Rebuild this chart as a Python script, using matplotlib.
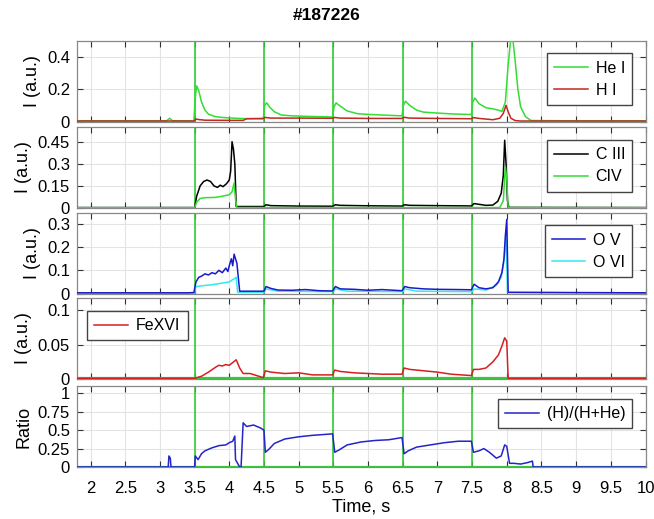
import matplotlib
matplotlib.use("Agg")
import matplotlib.pyplot as plt

plt.rcParams['font.family'] = ['Liberation Sans', 'DejaVu Sans']

# ---------------- data ----------------
puff_times = [3.5, 4.5, 5.5, 6.5, 7.5]

t_he = [1.8, 2.5, 3.0, 3.1, 3.14, 3.18, 3.3, 3.49, 3.51, 3.53, 3.56, 3.6, 3.65, 3.7, 3.8, 3.9, 4.0, 4.2, 4.4,
        4.49, 4.51, 4.54, 4.58, 4.65, 4.75, 4.9, 5.1, 5.3, 5.49, 5.51, 5.54, 5.6, 5.7, 5.85, 6.0, 6.2, 6.49,
        6.51, 6.54, 6.6, 6.7, 6.8, 7.0, 7.2, 7.49, 7.51, 7.54, 7.6, 7.7, 7.8, 7.88, 7.93, 7.98, 8.02, 8.06,
        8.09, 8.12, 8.16, 8.2, 8.27, 8.35, 9.0, 10.0]
v_he = [0.004, 0.004, 0.004, 0.005, 0.02, 0.005, 0.004, 0.004, 0.15, 0.22, 0.19, 0.12, 0.07, 0.045, 0.03,
        0.025, 0.022, 0.018, 0.017, 0.016, 0.1, 0.115, 0.09, 0.06, 0.04, 0.035, 0.032, 0.03, 0.028, 0.09,
        0.115, 0.095, 0.065, 0.048, 0.044, 0.04, 0.035, 0.1, 0.125, 0.1, 0.07, 0.058, 0.052, 0.047, 0.043,
        0.12, 0.145, 0.11, 0.085, 0.078, 0.07, 0.062, 0.12, 0.35, 0.52, 0.5, 0.38, 0.2, 0.09, 0.03, 0.006,
        0.004, 0.004]

t_h = [1.8, 3.49, 3.52, 3.56, 3.65, 4.0, 4.2, 4.25, 4.49, 4.52, 4.6, 5.0, 5.49, 5.52, 5.6, 6.0, 6.49, 6.52,
       6.6, 7.0, 7.49, 7.52, 7.6, 7.8, 7.9, 7.95, 7.99, 8.02, 8.06, 8.12, 8.2, 10.0]
v_h = [0.003, 0.003, 0.015, 0.012, 0.008, 0.007, 0.007, 0.017, 0.019, 0.025, 0.021, 0.021, 0.02, 0.025,
       0.021, 0.019, 0.019, 0.026, 0.021, 0.019, 0.017, 0.024, 0.019, 0.011, 0.02, 0.05, 0.1, 0.06, 0.02,
       0.006, 0.003, 0.003]

t_c3 = [1.8, 3.5, 3.53, 3.58, 3.63, 3.68, 3.73, 3.78, 3.83, 3.87, 3.91, 3.96, 4.0, 4.02, 4.04, 4.06, 4.08,
        4.1, 4.5, 4.53, 4.6, 5.0, 5.49, 5.53, 5.6, 6.0, 6.49, 6.53, 6.6, 7.0, 7.49, 7.53, 7.6, 7.7, 7.8,
        7.87, 7.92, 7.95, 7.97, 7.99, 8.01, 8.03, 10.0]
v_c3 = [0.003, 0.003, 0.08, 0.15, 0.18, 0.19, 0.18, 0.15, 0.14, 0.155, 0.145, 0.165, 0.19, 0.25, 0.45,
        0.4, 0.3, 0.01, 0.01, 0.022, 0.016, 0.013, 0.012, 0.022, 0.018, 0.015, 0.013, 0.022, 0.018, 0.016,
        0.014, 0.03, 0.025, 0.018, 0.02, 0.045, 0.1, 0.22, 0.46, 0.3, 0.05, 0.004, 0.003]

t_c4 = [1.8, 3.5, 3.53, 3.58, 3.65, 3.8, 3.9, 4.0, 4.04, 4.07, 4.09, 4.11, 7.9, 7.95, 7.98, 8.0, 8.02, 10.0]
v_c4 = [0.002, 0.002, 0.04, 0.065, 0.07, 0.072, 0.08, 0.09, 0.11, 0.17, 0.06, 0.003, 0.003, 0.05, 0.28,
        0.2, 0.003, 0.002]

t_o5 = [1.8, 3.4, 3.49, 3.52, 3.56, 3.6, 3.65, 3.7, 3.75, 3.8, 3.85, 3.9, 3.95, 3.98, 4.0, 4.03, 4.05, 4.07,
        4.09, 4.11, 4.15, 4.5, 4.53, 4.6, 4.7, 4.9, 5.1, 5.3, 5.49, 5.53, 5.6, 5.8, 6.0, 6.2, 6.49, 6.53,
        6.6, 6.8, 7.0, 7.3, 7.49, 7.53, 7.6, 7.7, 7.8, 7.88, 7.93, 7.96, 7.98, 8.0, 8.02, 10.0]
v_o5 = [0.003, 0.003, 0.004, 0.05, 0.07, 0.075, 0.085, 0.08, 0.09, 0.085, 0.1, 0.09, 0.11, 0.095, 0.12,
        0.15, 0.12, 0.17, 0.15, 0.13, 0.01, 0.01, 0.03, 0.022, 0.015, 0.014, 0.017, 0.012, 0.011, 0.03,
        0.02, 0.018, 0.014, 0.017, 0.012, 0.03, 0.025, 0.02, 0.018, 0.017, 0.016, 0.04, 0.025, 0.02, 0.025,
        0.05, 0.09, 0.15, 0.25, 0.32, 0.005, 0.003]

t_o6 = [1.8, 3.49, 3.52, 3.6, 3.75, 3.9, 4.0, 4.05, 4.08, 4.1, 4.12, 4.5, 4.53, 4.7, 5.5, 5.53, 5.7, 6.5,
        6.53, 6.7, 7.5, 7.53, 7.7, 7.85, 7.92, 7.96, 7.99, 8.01, 10.0]
v_o6 = [0.001, 0.001, 0.03, 0.033, 0.038, 0.045, 0.05, 0.06, 0.065, 0.07, 0.005, 0.005, 0.02, 0.01,
        0.008, 0.02, 0.01, 0.008, 0.02, 0.01, 0.008, 0.02, 0.015, 0.035, 0.07, 0.14, 0.26, 0.005, 0.001]

t_fe = [1.8, 3.5, 3.6, 3.7, 3.8, 3.85, 3.9, 3.95, 4.0, 4.05, 4.1, 4.15, 4.2, 4.3, 4.49, 4.52, 4.6, 4.8,
        5.0, 5.2, 5.49, 5.52, 5.6, 5.8, 6.0, 6.2, 6.49, 6.52, 6.6, 6.8, 7.0, 7.2, 7.49, 7.52, 7.6, 7.7,
        7.8, 7.88, 7.93, 7.97, 8.0, 8.02, 10.0]
v_fe = [0.001, 0.001, 0.004, 0.01, 0.017, 0.02, 0.019, 0.021, 0.02, 0.024, 0.028, 0.016, 0.008, 0.008,
        0.002, 0.012, 0.01, 0.008, 0.009, 0.006, 0.006, 0.013, 0.011, 0.009, 0.008, 0.007, 0.007, 0.016,
        0.014, 0.012, 0.01, 0.007, 0.005, 0.014, 0.014, 0.016, 0.025, 0.035, 0.048, 0.06, 0.055, 0.001,
        0.001]

t_ratio = [1.8, 3.12, 3.13, 3.15, 3.16, 3.5, 3.51, 3.55, 3.6, 3.65, 3.75, 3.85, 3.95, 4.0, 4.05, 4.08, 4.09,
           4.15, 4.17, 4.2, 4.25, 4.35, 4.45, 4.5, 4.52, 4.57, 4.65, 4.8, 5.0, 5.2, 5.49, 5.52, 5.58, 5.7,
           5.9, 6.1, 6.3, 6.49, 6.52, 6.58, 6.7, 6.9, 7.1, 7.3, 7.49, 7.52, 7.6, 7.67, 7.75, 7.85, 7.92,
           7.97, 8.0, 8.04, 8.1, 8.2, 8.3, 8.37, 8.38, 10.0]
v_ratio = [0.0, 0.0, 0.15, 0.12, 0.0, 0.0, 0.15, 0.1, 0.18, 0.22, 0.26, 0.29, 0.3, 0.33, 0.35, 0.42, 0.1,
           0.0, 0.0, 0.6, 0.55, 0.57, 0.53, 0.5, 0.2, 0.24, 0.32, 0.38, 0.41, 0.43, 0.45, 0.2, 0.23, 0.3,
           0.34, 0.36, 0.37, 0.4, 0.18, 0.22, 0.27, 0.3, 0.33, 0.35, 0.35, 0.2, 0.22, 0.25, 0.2, 0.12,
           0.15, 0.3, 0.28, 0.05, 0.05, 0.04, 0.06, 0.08, 0.0, 0.0]

# ---------------- styling ----------------
c_he = '#33dd33'
c_h = '#c02820'
c_c3 = '#000000'
c_c4 = '#33dd33'
c_o5 = '#1a1acc'
c_o6 = '#33e8f0'
c_fe = '#d42020'
c_ratio = '#2424c8'
c_puff = '#33cc33'

W, H = 654, 519
fig = plt.figure(figsize=(W / 100, H / 100), dpi=100)

left, right = 77, 645.5
panels_px = [(40.5, 121.5), (127, 208), (212.5, 293.5), (298, 379), (386, 467)]
axes = []
for top, bot in panels_px:
    ax = fig.add_axes([left / W, 1 - bot / H, (right - left) / W, (bot - top) / H])
    axes.append(ax)

xticks = [2 + 0.5 * i for i in range(17)]
xticklabels = ['2', '2.5', '3', '3.5', '4', '4.5', '5', '5.5', '6', '6.5', '7', '7.5', '8', '8.5', '9',
               '9.5', '10']

ylims = [(0, 0.5), (0, 0.55), (0, 0.35), (0, 0.118), (0, 1.1)]
yticks = [[0, 0.2, 0.4], [0, 0.15, 0.3, 0.45], [0, 0.1, 0.2, 0.3], [0, 0.05, 0.1], [0, 0.25, 0.5, 0.75, 1]]
yticklabels = [['0', '0.2', '0.4'], ['0', '0.15', '0.3', '0.45'], ['0', '0.1', '0.2', '0.3'],
               ['0', '0.05', '0.1'], ['0', '0.25', '0.5', '0.75', '1']]

for i, ax in enumerate(axes):
    ax.set_xlim(1.805, 10.0)
    ax.set_ylim(*ylims[i])
    ax.set_xticks(xticks)
    ax.set_yticks(yticks[i])
    ax.set_yticklabels(yticklabels[i])
    if i == 4:
        ax.set_xticklabels(xticklabels)
    else:
        ax.set_xticklabels([])
    ax.grid(True, color='#e3e3e3', linewidth=0.8)
    ax.set_axisbelow(True)
    ax.tick_params(direction='in', top=True, right=True, length=4, width=0.8, color='#333333',
                   labelsize=12, pad=5)
    ax.tick_params(axis='x', pad=10)
    for s in ax.spines.values():
        s.set_color('#888888')
        s.set_linewidth(0.9)
    for tp in puff_times:
        ax.axvline(tp, color=c_puff, lw=1.2, zorder=1.5)
    if i >= 3:
        ax.axhline(0.0008 if i == 3 else 0.004, color=c_puff, lw=1.6, zorder=1.4)

lw = 1.1
leg_kw = dict(fancybox=False, edgecolor='#444444', framealpha=1, fontsize=11.5, handlelength=2.1,
              handletextpad=0.5, borderpad=0.45, labelspacing=0.45, borderaxespad=0)

ax = axes[0]
ax.plot(t_he, v_he, color=c_he, lw=lw, label='He I', zorder=3)
ax.plot(t_h, v_h, color=c_h, lw=lw, label='H I', zorder=3)
ax.set_ylabel('I (a.u.)', fontsize=13)
ax.legend(loc='upper right', bbox_to_anchor=(0.977, 0.84), **leg_kw)

ax = axes[1]
ax.plot(t_c3, v_c3, color=c_c3, lw=lw, label='C III', zorder=3)
ax.plot(t_c4, v_c4, color=c_c4, lw=lw, label='CIV', zorder=3)
ax.set_ylabel('I (a.u.)', fontsize=13)
ax.legend(loc='upper right', bbox_to_anchor=(0.977, 0.84), **leg_kw)

ax = axes[2]
ax.plot(t_o6, v_o6, color=c_o6, lw=lw, label='O VI', zorder=3)
ax.plot(t_o5, v_o5, color=c_o5, lw=lw, label='O V', zorder=3.1)
ax.set_ylabel('I (a.u.)', fontsize=13)
h, l = ax.get_legend_handles_labels()
ax.legend([h[1], h[0]], [l[1], l[0]], loc='upper right', bbox_to_anchor=(0.977, 0.84), **leg_kw)

ax = axes[3]
ax.plot(t_fe, v_fe, color=c_fe, lw=lw, label='FeXVI', zorder=3)
ax.set_ylabel('I (a.u.)', fontsize=13)
ax.legend(loc='upper left', bbox_to_anchor=(0.018, 0.84), **leg_kw)

ax = axes[4]
ax.plot(t_ratio, v_ratio, color=c_ratio, lw=lw, label='(H)/(H+He)', zorder=3)
ax.set_ylabel('Ratio', fontsize=13)
ax.set_xlabel('Time, s', fontsize=13, labelpad=2)
ax.legend(loc='upper right', bbox_to_anchor=(0.977, 0.84), **leg_kw)

fig.align_ylabels(axes)
fig.suptitle('#187226', fontsize=12.5, fontweight='bold', y=0.985)

fig.savefig('out.png', dpi=100)
